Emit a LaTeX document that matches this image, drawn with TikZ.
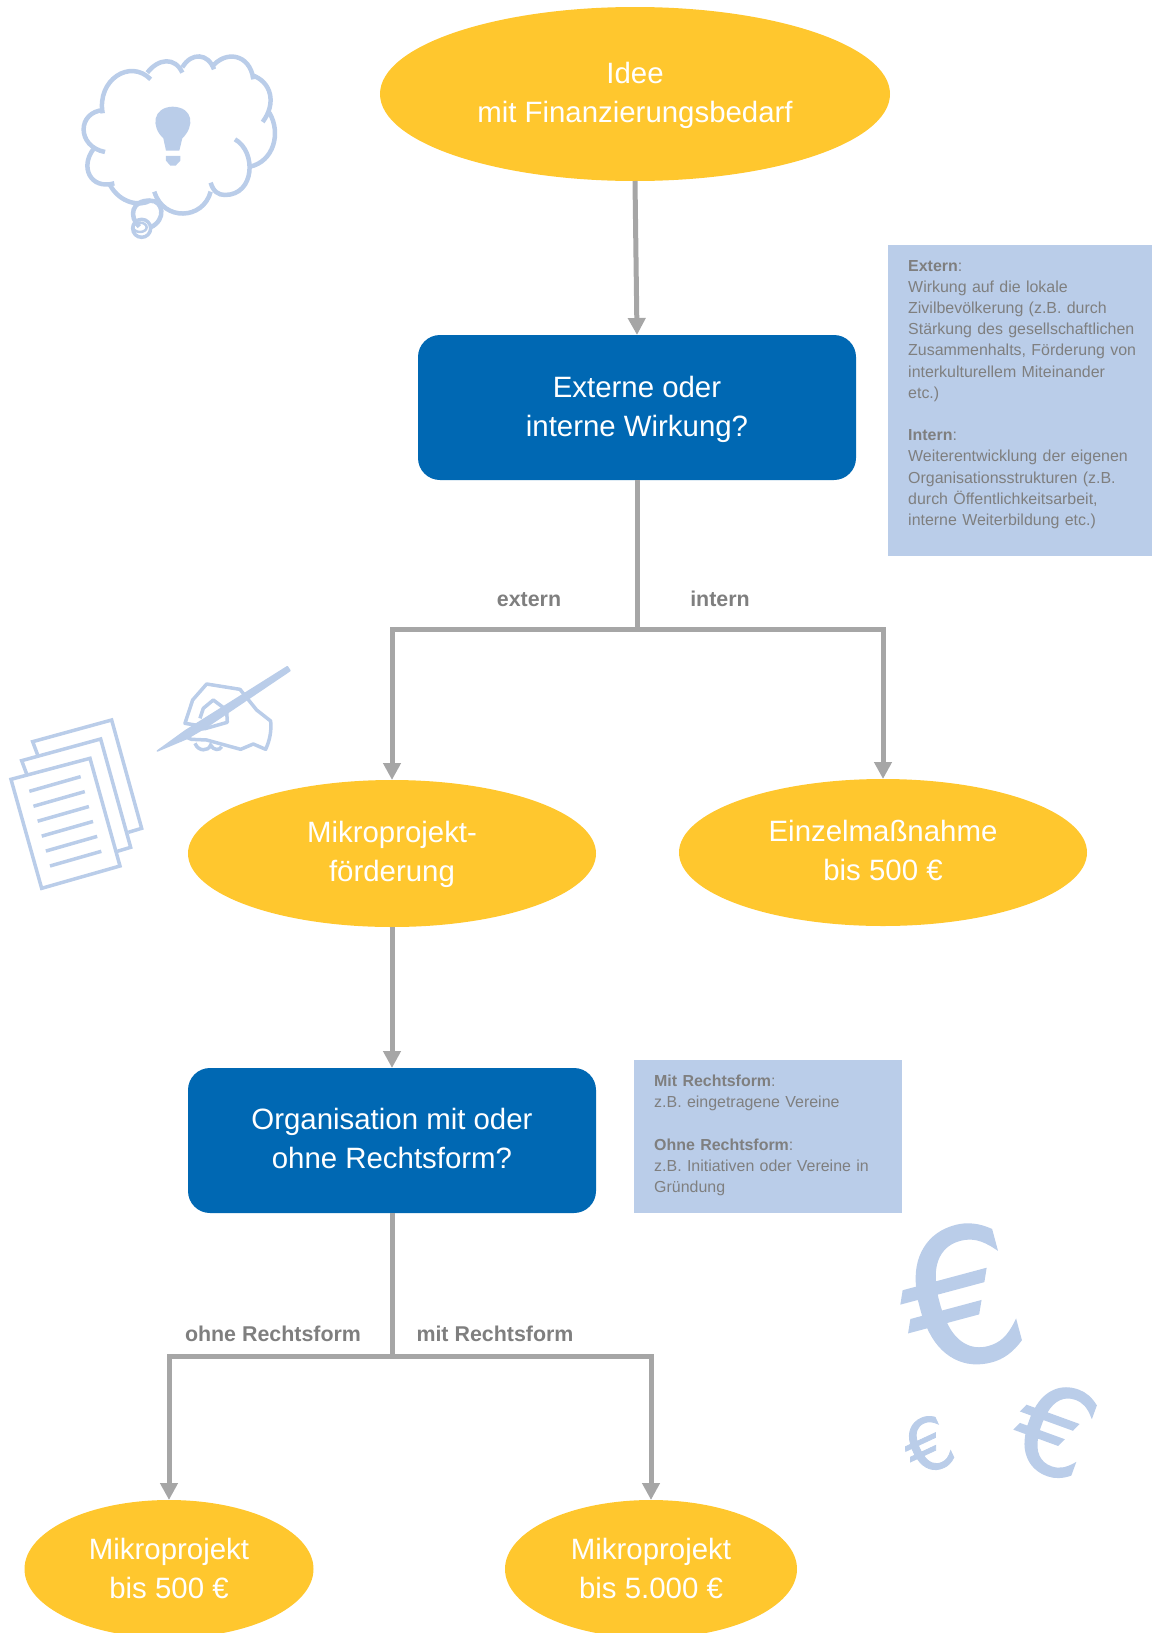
\documentclass[tikz,border=0pt]{standalone}
\usepackage{fontspec}
\setmainfont{Liberation Sans}
\newfontfamily\muenzefont[FakeBold=1.2]{DejaVu Sans}
\usetikzlibrary{calc,arrows.meta,shapes.geometric,positioning}
\definecolor{idee}{HTML}{FFC72E}
\definecolor{frage}{HTML}{0068B3}
\definecolor{hell}{HTML}{BACDE9}
\definecolor{linie}{HTML}{A6A6A6}
\definecolor{schrift}{HTML}{7F7F7F}
\tikzset{
  oval/.style={ellipse, fill=idee, text=white, align=center, inner sep=0pt, outer sep=0pt, text height=61.4pt, text depth=6pt, font=\fontsize{29.4}{39}\selectfont},
  frage/.style={rectangle, rounded corners=22pt, fill=frage, text=white, align=center, inner sep=0pt, outer sep=0pt, text height=61.4pt, text depth=6pt, font=\fontsize{29.4}{39}\selectfont},
  info/.style={rectangle, fill=hell, text=schrift, align=left, anchor=north west, inner xsep=20pt, inner ysep=15pt, font=\fontsize{15.95}{21.2}\selectfont},
  flow/.style={line width=5pt, draw=linie, -{Triangle[length=17pt,width=17pt]}},
  stem/.style={line width=5pt, draw=linie},
  zweig/.style={text=schrift, font=\fontsize{21.4}{25}\selectfont\bfseries},
  skizze/.style={line width=4.5pt, draw=hell},
  papier/.style={line width=3.5pt, draw=hell},
  muenze/.style={text=hell, inner sep=0pt}
}
\begin{document}
\begin{tikzpicture}[x=1pt,y=-1pt]
    \useasboundingbox (0,0) rectangle (1152,1633);
    \node[oval, minimum width=510pt, minimum height=174pt, text height=63.4pt] (N1) at (635,94) {Idee\\mit Finanzierungsbedarf};
    \node[frage, minimum width=438pt, minimum height=145pt, text height=63.4pt, below=154pt of N1, xshift=2pt] (F1) {Externe oder\\interne Wirkung?};
    \node[oval, minimum width=408pt, minimum height=147pt] (N2) at (392,853.5) {Mikroprojekt-\\förderung};
    \node[oval, minimum width=408pt, minimum height=147pt] (N3) at (883,852.5) {Einzelmaßnahme\\bis 500 €};
    \node[frage, minimum width=408pt, minimum height=145pt, below=141pt of N2] (F2) {Organisation mit oder\\ohne Rechtsform?};
    \node[oval, minimum width=289pt, minimum height=138pt, text height=64.6pt] (N4) at (169,1569) {Mikroprojekt\\bis 500 €};
    \node[oval, minimum width=292pt, minimum height=138pt, text height=64.6pt] (N5) at (651,1569) {Mikroprojekt\\bis 5.000 €};

    \node[info, text width=224pt] (I1) at (888,245) {\textbf{Extern}:\\Wirkung auf die lokale\\Zivilbevölkerung (z.B. durch\\\makebox[224pt][l]{Stärkung des gesellschaftlichen}\\\makebox[224pt][l]{Zusammenhalts, Förderung von}\\interkulturellem Miteinander\\etc.)\\\mbox{}\\\textbf{Intern}:\\Weiterentwicklung der eigenen\\Organisationsstrukturen (z.B.\\durch Öffentlichkeitsarbeit,\\interne Weiterbildung etc.)\\[-6pt]\mbox{}};
    \node[info, text width=228pt] (I2) at (634,1060) {\textbf{Mit Rechtsform}:\\z.B. eingetragene Vereine\\\mbox{}\\\textbf{Ohne Rechtsform}:\\z.B. Initiativen oder Vereine in\\Gründung\\[-16pt]\mbox{}};

    \coordinate (S1) at (F1.south |- 0,629);
    \coordinate (S2) at (F2.south |- 0,1356);
    \draw[flow] (N1.south) -- (F1.north);
    \draw[stem] (F1.south) -- (S1);
    \draw[flow] (S1) -| (N2.north);
    \draw[flow] (S1) -| (N3.north);
    \draw[flow] (N2.south) -- (F2.north);
    \draw[stem] (F2.south) -- (S2);
    \draw[flow] (S2) -| (N4.north);
    \draw[flow] (S2) -| (N5.north);

    \node[zweig] (L1) at (529,600) {extern};
    \node[zweig] (L2) at (720,599) {intern};
    \node[zweig] (L3) at (273,1334) {ohne Rechtsform};
    \node[zweig] (L4) at (495,1334) {mit Rechtsform};

    \node[muenze, font=\fontsize{185}{185}\selectfont\muenzefont, rotate=15] (M1) at (961,1297) {€};
    \node[muenze, font=\fontsize{120}{120}\selectfont\muenzefont, rotate=-20] (M2) at (1055,1430) {€};
    \node[muenze, font=\fontsize{72}{72}\selectfont\muenzefont, rotate=25] (M3) at (928,1445) {€};

    % cloud
    \begin{scope}[shift={(60,30)},x=0.3333pt,y=-0.3333pt]
        \draw[skizze] (128,250) .. controls (110,150) and (210,85) .. (272,148);
        \draw[skizze] (262,128) .. controls (295,85) and (345,80) .. (367,128);
        \draw[skizze] (367,112) .. controls (395,65) and (445,70) .. (462,118);
        \draw[skizze] (455,112) .. controls (495,60) and (570,70) .. (580,148);
        \draw[skizze] (575,135) .. controls (635,155) and (650,220) .. (608,276);
        \draw[skizze] (628,248) .. controls (665,310) and (640,395) .. (570,410);
        \draw[skizze] (525,328) .. controls (590,365) and (585,495) .. (495,495) .. controls (475,495) and (460,485) .. (452,458);
        \draw[skizze] (452,485) .. controls (430,570) and (310,575) .. (283,485);
        \draw[skizze] (150,465) .. controls (180,520) and (240,530) .. (270,512) .. controls (310,510) and (320,570) .. (272,592);
        \draw[skizze] (270,512) .. controls (215,510) and (205,560) .. (238,590);
        \draw[skizze] (163,460) .. controls (90,480) and (60,410) .. (100,358);
        \draw[skizze] (135,366) .. controls (50,350) and (50,245) .. (132,240);
        \draw[line width=3.5pt, draw=hell] (245,595) circle (27);
        \draw[line width=2.5pt, draw=hell] (240,592) ellipse (20 and 14);
        \fill[hell] (318,362) -- (310,325) .. controls (272,290) and (278,232) .. (338,230) .. controls (402,232) and (404,290) .. (367,325) -- (358,362) -- cycle;
        \fill[hell] (318,378) -- (361,378) -- (361,392) -- (347,407) -- (331,407) -- (318,392) -- cycle;
    \end{scope}

    % hand and papers
    \begin{scope}[shift={(0,650)},x=0.3333pt,y=-0.3333pt]
        \filldraw[hell, line width=1.5pt, line join=round] (472,303) -- (555,243) -- (862,50) -- (870,62) -- (618,232) -- (560,266) -- cycle;
        \draw[papier, line join=round] (605,228) -- (555,220) -- (578,150) -- (620,102) -- (720,118) -- (770,180) -- (812,213) .. controls (815,240) and (810,270) .. (797,298) -- (760,282) -- (722,298) -- (620,270) -- (575,268) .. controls (550,262) and (550,240) .. (580,238) -- (615,236) -- (682,217) -- (680,180) -- (640,150) -- (610,175) -- (600,205);
        \draw[papier] (585,280) .. controls (595,305) and (625,305) .. (632,285) .. controls (640,302) and (660,302) .. (665,290);
        \draw[papier] (113,315) -- (98,275) -- (335,210) -- (425,535) -- (385,547);
        \draw[papier] (80,372) -- (65,332) -- (302,267) -- (392,592) -- (352,604);
        \draw[papier] (33,388) -- (270,325) -- (360,648) -- (125,715) -- cycle;
        \foreach \y in {0,...,5}
            \draw[papier] ($(88,424)+(12.4*\y,44.8*\y)$) -- ($(242,380)+(12.4*\y,44.8*\y)$);
    \end{scope}
\end{tikzpicture}
\end{document}
